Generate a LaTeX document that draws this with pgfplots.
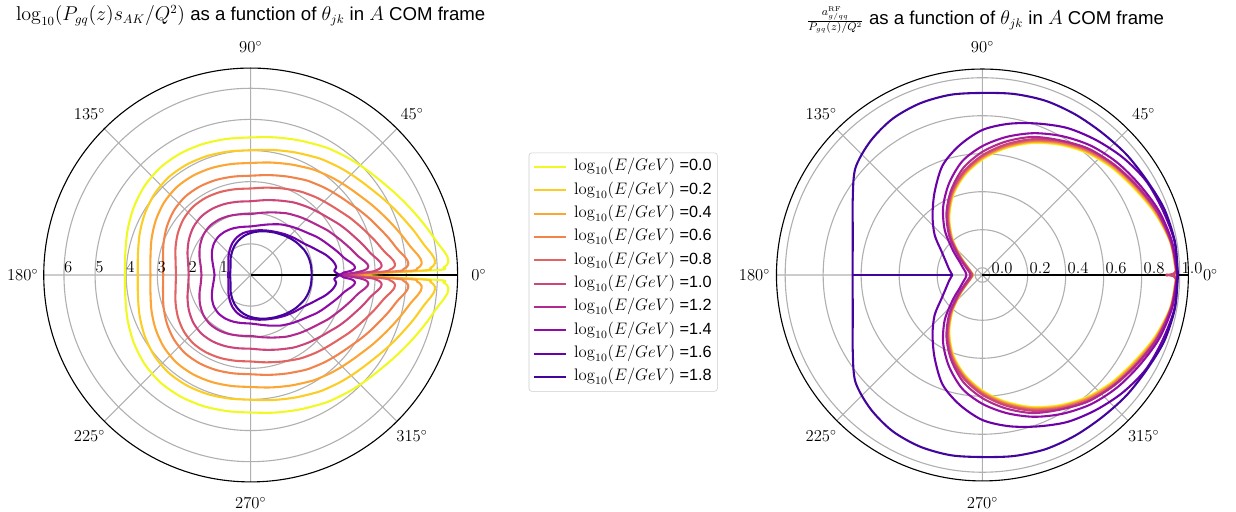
\documentclass[border=0pt]{standalone}
\usepackage{pgfplots}
\pgfplotsset{compat=1.18}
\usepgfplotslibrary{polar}
\usepackage{pgfplotstable}
\usepackage[no-math]{fontspec}
\setmainfont{Liberation Sans}

% plasma colour ramp, one colour per energy
\definecolor{p0}{HTML}{F0F921}
\definecolor{p1}{HTML}{FCCE25}
\definecolor{p2}{HTML}{FCA636}
\definecolor{p3}{HTML}{F2844B}
\definecolor{p4}{HTML}{E16462}
\definecolor{p5}{HTML}{CC4778}
\definecolor{p6}{HTML}{B12A90}
\definecolor{p7}{HTML}{8F0DA4}
\definecolor{p8}{HTML}{6A00A8}
\definecolor{p9}{HTML}{41049D}
\definecolor{gridgray}{HTML}{B0B0B0}

\newcommand{\tickfont}{\fontsize{11.7}{14}\selectfont}
\newcommand{\titlefont}{\fontsize{13.4}{16}\selectfont}

% log10(P s/Q^2) against theta (upper half; the curves are mirror symmetric)
\pgfplotstableread{
t    a0   a1   a2   a3   a4   a5   a6   a7   a8   a9
0    2.87 2.87 2.87 2.87 2.87 2.87 2.87 2.87 2.87 1.96
1.5  6.00 5.57 5.14 4.71 4.28 3.85 3.42 2.99 2.75 1.96
2.2  6.20 5.77 5.34 4.91 4.48 4.05 3.62 3.19 2.71 1.96
2.9  6.31 5.88 5.45 5.02 4.59 4.16 3.73 3.30 2.69 1.96
3.6  6.36 5.93 5.50 5.07 4.64 4.21 3.78 3.35 2.71 1.96
4.3  6.37 5.94 5.51 5.08 4.65 4.22 3.79 3.36 2.74 1.96
5.3  6.35 5.92 5.49 5.06 4.63 4.20 3.77 3.34 2.76 1.96
7    6.26 5.83 5.40 4.97 4.54 4.11 3.68 3.25 2.74 1.96
10   6.08 5.65 5.22 4.79 4.36 3.93 3.50 3.07 2.67 1.96
15   5.86 5.44 5.01 4.59 4.16 3.74 3.31 2.89 2.50 1.95
20   5.66 5.24 4.82 4.40 3.98 3.56 3.14 2.72 2.30 1.93
25   5.48 5.07 4.65 4.24 3.82 3.41 2.99 2.58 2.14 1.90
30   5.32 4.91 4.50 4.09 3.68 3.27 2.86 2.45 2.00 1.85
35   5.18 4.77 4.36 3.95 3.54 3.13 2.72 2.31 1.91 1.81
40   5.07 4.66 4.25 3.84 3.43 3.02 2.61 2.20 1.84 1.76
45   4.98 4.57 4.16 3.75 3.34 2.93 2.52 2.11 1.77 1.71
50   4.90 4.49 4.08 3.67 3.26 2.85 2.44 2.03 1.71 1.66
55   4.82 4.41 4.00 3.59 3.18 2.77 2.36 1.95 1.65 1.61
60   4.75 4.34 3.93 3.52 3.11 2.70 2.29 1.88 1.60 1.57
70   4.60 4.19 3.78 3.37 2.96 2.55 2.14 1.73 1.52 1.49
80   4.49 4.08 3.67 3.26 2.85 2.44 2.03 1.62 1.46 1.42
90   4.42 4.01 3.60 3.19 2.78 2.37 1.96 1.56 1.41 1.35
100  4.44 4.03 3.62 3.21 2.80 2.39 1.98 1.57 1.37 1.27
110  4.48 4.07 3.66 3.25 2.84 2.43 2.02 1.60 1.29 1.17
120  4.51 4.10 3.69 3.28 2.87 2.46 2.05 1.62 1.18 1.06
130  4.51 4.10 3.69 3.28 2.87 2.46 2.05 1.61 1.05 0.94
140  4.45 4.04 3.63 3.22 2.81 2.40 1.99 1.55 0.93 0.84
150  4.34 3.93 3.52 3.11 2.70 2.29 1.88 1.44 0.83 0.75
160  4.21 3.80 3.39 2.98 2.57 2.16 1.75 1.31 0.76 0.69
170  4.09 3.68 3.27 2.86 2.45 2.04 1.63 1.21 0.73 0.665
180  4.04 3.63 3.22 2.81 2.40 1.99 1.58 1.16 0.72 0.66
}\leftdata

% a^RF / (P/Q^2) against theta (upper half)
\pgfplotstableread{
t     b0    b1    b2    b3    b4    b5    b6    b7    b8    b9
0     0.980 0.980 0.980 0.927 0.927 0.927 0.983 0.985 0.988 0.990
1.2   0.980 0.980 0.980 0.981 0.981 0.982 0.983 0.985 0.988 0.990
10    0.965 0.966 0.967 0.968 0.969 0.970 0.970 0.975 0.988 0.990
20    0.925 0.928 0.931 0.934 0.937 0.941 0.940 0.950 0.970 0.980
30    0.880 0.884 0.888 0.892 0.896 0.902 0.900 0.915 0.955 0.960
40    0.845 0.849 0.853 0.857 0.861 0.867 0.865 0.885 0.925 0.950
50    0.805 0.809 0.813 0.817 0.821 0.827 0.830 0.850 0.890 0.940
60    0.755 0.759 0.763 0.767 0.771 0.777 0.780 0.805 0.855 0.938
70    0.700 0.704 0.708 0.712 0.716 0.722 0.735 0.756 0.810 0.937
80    0.637 0.641 0.645 0.649 0.653 0.659 0.675 0.700 0.770 0.929
90    0.570 0.574 0.578 0.582 0.586 0.592 0.610 0.640 0.725 0.920
100   0.495 0.499 0.503 0.507 0.511 0.517 0.535 0.570 0.655 0.925
110   0.410 0.414 0.418 0.422 0.426 0.432 0.440 0.475 0.575 0.923
120   0.310 0.314 0.318 0.322 0.326 0.332 0.340 0.375 0.465 0.910
130   0.205 0.209 0.213 0.217 0.221 0.227 0.235 0.270 0.370 0.880
140   0.110 0.113 0.116 0.119 0.122 0.126 0.135 0.165 0.290 0.835
150   0.055 0.057 0.059 0.061 0.063 0.065 0.075 0.100 0.210 0.750
160   0.030 0.031 0.032 0.033 0.034 0.036 0.045 0.070 0.166 0.688
170   0.017 0.018 0.019 0.020 0.021 0.023 0.030 0.052 0.140 0.655
178.8 0.011 0.012 0.013 0.014 0.015 0.016 0.026 0.046 0.122 0.645
180   0.010 0.011 0.012 0.013 0.014 0.015 0.025 0.045 0.120 0.645
}\rightdata

% the highest energy drops back to this value exactly at 180 degrees
\pgfplotstableread{
t    r
180  0.645
180  0.115
}\rightspike

\pgfplotsset{
  polstyle/.style={
    scale only axis,
    xmin=0, xmax=360,
    xtick={0,45,...,315}, xticklabels={},
    yticklabels={},
    grid=major,
    major grid style={color=gridgray, line width=0.8pt},
    axis line style={line width=0.8pt, black},
    major tick length=0pt,
    clip=false,
    every axis plot/.append style={line width=1.5pt, line join=round},
  },
  curve/.style={#1, smooth, tension=0.5},
}

\begin{document}
\begin{tikzpicture}
\useasboundingbox (0,0) rectangle (890pt,368pt);

% ---------- left panel ----------
\begin{polaraxis}[
  polstyle,
  at={(180.5pt,170pt)}, anchor=center,
  width=298pt, height=298pt,
  ymin=0, ymax=6.65,
  ytick={1,2,3,4,5,6},
  legend style={
    at={(axis description cs:1.40,0.507)}, anchor=center,
    draw=black!20, rounded corners=2pt, fill=white,
    font=\tickfont,
    row sep=3.3pt, column sep=4pt, inner xsep=3pt, inner ysep=3.5pt,
    nodes={inner sep=1pt, text height=8.5pt, text depth=3pt},
  },
  legend cell align=left,
  legend image code/.code={\draw[#1] (0pt,0pt) -- (23pt,0pt);},
]
\addplot[curve=p0] table[x=t,y=a0]{\leftdata};
\addlegendentry{$\log_{10}(E/GeV)$ =0.0}
\addplot[curve=p0,forget plot] table[x expr=-\thisrow{t},y=a0]{\leftdata};
\addplot[curve=p1] table[x=t,y=a1]{\leftdata};
\addlegendentry{$\log_{10}(E/GeV)$ =0.2}
\addplot[curve=p1,forget plot] table[x expr=-\thisrow{t},y=a1]{\leftdata};
\addplot[curve=p2] table[x=t,y=a2]{\leftdata};
\addlegendentry{$\log_{10}(E/GeV)$ =0.4}
\addplot[curve=p2,forget plot] table[x expr=-\thisrow{t},y=a2]{\leftdata};
\addplot[curve=p3] table[x=t,y=a3]{\leftdata};
\addlegendentry{$\log_{10}(E/GeV)$ =0.6}
\addplot[curve=p3,forget plot] table[x expr=-\thisrow{t},y=a3]{\leftdata};
\addplot[curve=p4] table[x=t,y=a4]{\leftdata};
\addlegendentry{$\log_{10}(E/GeV)$ =0.8}
\addplot[curve=p4,forget plot] table[x expr=-\thisrow{t},y=a4]{\leftdata};
\addplot[curve=p5] table[x=t,y=a5]{\leftdata};
\addlegendentry{$\log_{10}(E/GeV)$ =1.0}
\addplot[curve=p5,forget plot] table[x expr=-\thisrow{t},y=a5]{\leftdata};
\addplot[curve=p6] table[x=t,y=a6]{\leftdata};
\addlegendentry{$\log_{10}(E/GeV)$ =1.2}
\addplot[curve=p6,forget plot] table[x expr=-\thisrow{t},y=a6]{\leftdata};
\addplot[curve=p7] table[x=t,y=a7]{\leftdata};
\addlegendentry{$\log_{10}(E/GeV)$ =1.4}
\addplot[curve=p7,forget plot] table[x expr=-\thisrow{t},y=a7]{\leftdata};
\addplot[curve=p8] table[x=t,y=a8]{\leftdata};
\addlegendentry{$\log_{10}(E/GeV)$ =1.6}
\addplot[curve=p8,forget plot] table[x expr=-\thisrow{t},y=a8]{\leftdata};
\addplot[curve=p9] table[x=t,y=a9]{\leftdata};
\addlegendentry{$\log_{10}(E/GeV)$ =1.8}
\addplot[curve=p9,forget plot] table[x expr=-\thisrow{t},y=a9]{\leftdata};

% angle labels
\node[font=\tickfont] at (axis cs:0,7.33)   {$0^\circ$};
\node[font=\tickfont] at (axis cs:45,7.33)  {$45^\circ$};
\node[font=\tickfont] at (axis cs:90,7.33)  {$90^\circ$};
\node[font=\tickfont] at (axis cs:135,7.33) {$135^\circ$};
\node[font=\tickfont] at (axis cs:180,7.33) {$180^\circ$};
\node[font=\tickfont] at (axis cs:225,7.33) {$225^\circ$};
\node[font=\tickfont] at (axis cs:270,7.33) {$270^\circ$};
\node[font=\tickfont] at (axis cs:315,7.33) {$315^\circ$};
% radial labels along the 180 degree ray
\node[font=\tickfont,yshift=5.4pt] at (axis cs:180,0.86) {$1$};
\node[font=\tickfont,yshift=5.4pt] at (axis cs:180,1.86) {$2$};
\node[font=\tickfont,yshift=5.4pt] at (axis cs:180,2.86) {$3$};
\node[font=\tickfont,yshift=5.4pt] at (axis cs:180,3.86) {$4$};
\node[font=\tickfont,yshift=5.4pt] at (axis cs:180,4.86) {$5$};
\node[font=\tickfont,yshift=5.4pt] at (axis cs:180,5.86) {$6$};
\end{polaraxis}

% ---------- right panel (radius offset by 0.0384 so that 0 sits on a small ring) ----------
\begin{polaraxis}[
  polstyle,
  at={(707.4pt,170pt)}, anchor=center,
  width=296.6pt, height=296.6pt,
  ymin=0, ymax=1.0842,
  ytick={0.0384,0.2384,0.4384,0.6384,0.8384,1.0384},
]
\addplot[curve=p0] table[x=t,y expr=\thisrow{b0}+0.0384]{\rightdata};
\addplot[curve=p0] table[x expr=-\thisrow{t},y expr=\thisrow{b0}+0.0384]{\rightdata};
\addplot[curve=p1] table[x=t,y expr=\thisrow{b1}+0.0384]{\rightdata};
\addplot[curve=p1] table[x expr=-\thisrow{t},y expr=\thisrow{b1}+0.0384]{\rightdata};
\addplot[curve=p2] table[x=t,y expr=\thisrow{b2}+0.0384]{\rightdata};
\addplot[curve=p2] table[x expr=-\thisrow{t},y expr=\thisrow{b2}+0.0384]{\rightdata};
\addplot[curve=p3] table[x=t,y expr=\thisrow{b3}+0.0384]{\rightdata};
\addplot[curve=p3] table[x expr=-\thisrow{t},y expr=\thisrow{b3}+0.0384]{\rightdata};
\addplot[curve=p4] table[x=t,y expr=\thisrow{b4}+0.0384]{\rightdata};
\addplot[curve=p4] table[x expr=-\thisrow{t},y expr=\thisrow{b4}+0.0384]{\rightdata};
\addplot[curve=p5] table[x=t,y expr=\thisrow{b5}+0.0384]{\rightdata};
\addplot[curve=p5] table[x expr=-\thisrow{t},y expr=\thisrow{b5}+0.0384]{\rightdata};
\addplot[curve=p6] table[x=t,y expr=\thisrow{b6}+0.0384]{\rightdata};
\addplot[curve=p6] table[x expr=-\thisrow{t},y expr=\thisrow{b6}+0.0384]{\rightdata};
\addplot[curve=p7] table[x=t,y expr=\thisrow{b7}+0.0384]{\rightdata};
\addplot[curve=p7] table[x expr=-\thisrow{t},y expr=\thisrow{b7}+0.0384]{\rightdata};
\addplot[curve=p8] table[x=t,y expr=\thisrow{b8}+0.0384]{\rightdata};
\addplot[curve=p8] table[x expr=-\thisrow{t},y expr=\thisrow{b8}+0.0384]{\rightdata};
\addplot[curve=p9] table[x=t,y expr=\thisrow{b9}+0.0384]{\rightdata};
\addplot[curve=p9] table[x expr=-\thisrow{t},y expr=\thisrow{b9}+0.0384]{\rightdata};
\addplot[p9] table[x=t,y expr=\thisrow{r}+0.0384]{\rightspike};

\node[font=\tickfont] at (axis cs:0,1.2)   {$0^\circ$};
\node[font=\tickfont] at (axis cs:45,1.2)  {$45^\circ$};
\node[font=\tickfont] at (axis cs:90,1.2)  {$90^\circ$};
\node[font=\tickfont] at (axis cs:135,1.2) {$135^\circ$};
\node[font=\tickfont] at (axis cs:180,1.2) {$180^\circ$};
\node[font=\tickfont] at (axis cs:225,1.2) {$225^\circ$};
\node[font=\tickfont] at (axis cs:270,1.2) {$270^\circ$};
\node[font=\tickfont] at (axis cs:315,1.2) {$315^\circ$};
\node[font=\tickfont,yshift=4.8pt] at (axis cs:0,0.1034) {$0.0$};
\node[font=\tickfont,yshift=4.8pt] at (axis cs:0,0.3034) {$0.2$};
\node[font=\tickfont,yshift=4.8pt] at (axis cs:0,0.5034) {$0.4$};
\node[font=\tickfont,yshift=4.8pt] at (axis cs:0,0.7034) {$0.6$};
\node[font=\tickfont,yshift=4.8pt] at (axis cs:0,0.9034) {$0.8$};
\node[font=\tickfont,yshift=4.8pt] at (axis cs:0,1.1034) {$1.0$};
\end{polaraxis}

% ---------- titles ----------
\node[anchor=base, font=\titlefont] at (180.5pt,353.1pt)
  {$\log_{10}(P_{gq}(z)s_{AK}/Q^2)$ as a function of $\theta_{jk}$ in $A$ COM frame};
\node[anchor=base, font=\titlefont] at (709.5pt,350pt)
  {{\fontsize{11}{13}\selectfont$\frac{a^{\mathrm{RF}}_{g/qq}}{P_{gq}(z)/Q^2}$} as a function of $\theta_{jk}$ in $A$ COM frame};
\end{tikzpicture}
\end{document}
